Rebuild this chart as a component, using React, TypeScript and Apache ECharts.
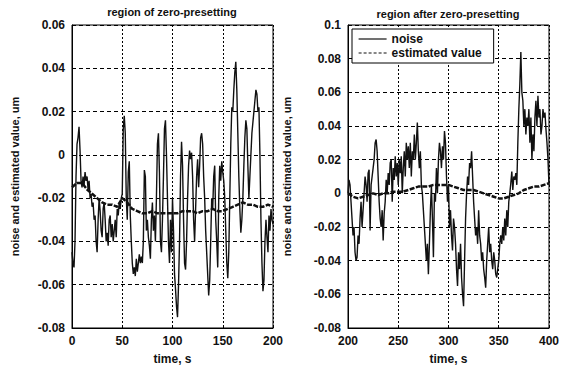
import React, { useEffect, useRef } from "react";
import * as echarts from "echarts";

// ---- data ----
const leftStart = 0;
const rightStart = 200;
const noiseStep = 1;
const estStep = 5;

const leftNoise = [
  -0.045, -0.050, -0.052, -0.040, -0.010, 0.005, 0.008, 0.013, 0.002, -0.012,
  -0.015, -0.010, -0.014, -0.008, -0.012, -0.010, -0.016, -0.012, -0.020, -0.018,
  -0.024, -0.022, -0.030, -0.028, -0.040, -0.045, -0.030, -0.020, -0.026, -0.035,
  -0.038, -0.025, -0.022, -0.030, -0.040, -0.036, -0.042, -0.030, -0.028, -0.038,
  -0.032, -0.040, -0.035, -0.030, -0.038, -0.025, -0.028, -0.022, -0.025, -0.020,
  -0.018, 0.012, 0.018, 0.010, -0.020, -0.030, -0.008, -0.003, -0.028, -0.040,
  -0.050, -0.055, -0.052, -0.056, -0.048, -0.054, -0.050, -0.046, -0.050, -0.047,
  -0.050, -0.040, -0.007, -0.010, -0.035, -0.030, -0.038, -0.042, -0.048, -0.030,
  -0.022, -0.035, -0.028, -0.040, -0.020, 0.005, 0.010, -0.008, -0.040, -0.045,
  -0.030, -0.010, 0.012, 0.016, 0.000, -0.020, -0.040, -0.050, -0.030, -0.045,
  -0.020, -0.035, -0.055, -0.062, -0.070, -0.075, -0.060, -0.040, -0.010, 0.006,
  -0.005, -0.030, -0.050, -0.053, -0.040, -0.020, -0.005, 0.002, -0.002, 0.001,
  -0.010, -0.030, -0.040, -0.025, -0.010, -0.002, -0.015, -0.005, 0.008, 0.010,
  0.005, -0.010, -0.020, -0.035, -0.045, -0.055, -0.065, -0.058, -0.040, -0.020,
  -0.025, -0.010, -0.005, -0.030, -0.040, -0.052, -0.020, -0.005, -0.012, -0.003,
  -0.008, -0.012, -0.020, -0.035, -0.050, -0.057, -0.045, -0.020, 0.005, 0.022,
  0.020, 0.030, 0.038, 0.043, 0.030, 0.010, -0.010, -0.025, -0.036, -0.030,
  -0.020, -0.005, 0.008, 0.016, 0.012, -0.005, -0.020, -0.010, 0.000, 0.010,
  0.015, 0.020, 0.025, 0.030, 0.028, 0.020, 0.022, 0.000, -0.030, -0.050,
  -0.063, -0.058, -0.040, -0.030, -0.038, -0.045, -0.028, -0.035, -0.025, -0.030, -0.032,
];

const leftEst = [
  -0.015, -0.013, -0.013, -0.016, -0.018, -0.020, -0.022, -0.023, -0.023, -0.024,
  -0.020, -0.022, -0.025, -0.026, -0.027, -0.027, -0.026, -0.027, -0.027, -0.027,
  -0.027, -0.027, -0.026, -0.026, -0.026, -0.027, -0.026, -0.026, -0.025, -0.026,
  -0.026, -0.025, -0.024, -0.023, -0.022, -0.023, -0.023, -0.024, -0.024, -0.023, -0.024,
];

const rightNoise = [
  0.000, 0.008, 0.005, -0.005, -0.015, -0.025, -0.020, -0.035, -0.040, -0.038,
  -0.025, -0.030, -0.015, -0.005, -0.020, -0.010, 0.000, 0.010, 0.005, -0.005,
  0.012, 0.014, -0.022, 0.005, 0.010, 0.015, 0.020, 0.030, 0.032, 0.025,
  0.010, -0.005, -0.015, -0.020, -0.010, -0.028, -0.012, -0.005, 0.008, 0.000,
  0.012, 0.005, 0.018, 0.020, -0.005, 0.015, 0.008, 0.022, 0.010, 0.018,
  0.005, 0.020, 0.012, 0.022, 0.000, 0.015, 0.025, 0.010, 0.030, 0.020,
  0.028, 0.015, 0.030, 0.010, 0.025, 0.020, 0.035, 0.020, 0.030, 0.042,
  0.025, 0.015, 0.025, 0.005, 0.000, -0.010, -0.020, -0.030, -0.040, -0.030,
  -0.048, -0.030, -0.010, 0.005, -0.015, -0.038, 0.000, -0.005, 0.015, 0.000,
  0.020, 0.030, 0.025, 0.015, 0.028, 0.020, 0.037, 0.030, 0.010, -0.005,
  0.005, -0.020, -0.010, -0.025, -0.034, -0.015, -0.020, -0.030, -0.045, -0.055,
  -0.035, -0.045, -0.030, -0.050, -0.060, -0.067, -0.040, -0.015, 0.000, 0.010,
  0.005, 0.018, 0.015, 0.025, 0.010, -0.005, -0.015, -0.025, -0.020, -0.030,
  -0.010, -0.025, -0.030, -0.040, -0.035, -0.045, -0.050, -0.056, -0.040, -0.030,
  -0.020, -0.035, -0.030, -0.040, -0.045, -0.035, -0.040, -0.048, -0.050, -0.045,
  -0.040, -0.030, -0.025, -0.030, -0.020, -0.028, -0.015, -0.025, -0.010, -0.020,
  -0.005, 0.000, 0.006, 0.013, 0.002, 0.010, 0.008, 0.012, 0.005, 0.030,
  0.050, 0.065, 0.084, 0.060, 0.055, 0.040, 0.050, 0.035, 0.045, 0.040,
  0.050, 0.030, 0.045, 0.020, 0.035, 0.025, 0.045, 0.055, 0.040, 0.058,
  0.045, 0.050, 0.035, 0.040, 0.050, 0.045, 0.048, 0.038, 0.030, 0.020, 0.005,
];

const rightEst = [
  0.000, -0.002, -0.003, -0.002, -0.001, 0.000, -0.001, 0.000, 0.000, 0.001,
  0.001, 0.001, 0.002, 0.003, 0.004, 0.004, 0.004, 0.005, 0.005, 0.005,
  0.005, 0.004, 0.003, 0.002, 0.002, 0.002, 0.001, 0.000, -0.001, -0.002,
  -0.003, -0.003, -0.002, -0.001, 0.000, 0.002, 0.003, 0.004, 0.004, 0.005, 0.006,
];

const titles = ["region of zero-presetting", "region after zero-presetting"];
const xName = "time, s";
const yName = "noise and estimated value, um";
const legendNames = ["noise", "estimated value"];

const FONT = "'Liberation Sans', Arial, Helvetica, sans-serif";

function pairs(start: number, step: number, vals: number[]) {
  return vals.map((v, i) => [start + i * step, v]);
}

export default function App() {
  const ref = useRef<HTMLDivElement>(null);
  useEffect(() => {
    if (!ref.current) return;
    const chart = echarts.init(ref.current, null, { renderer: "svg" });
    const grids = [
      { left: 72, top: 25, width: 201, height: 309 },
      { left: 348, top: 25, width: 201, height: 309 },
    ];
    const axisLabel = { color: "#111", fontSize: 12, fontWeight: "bold" as const, fontFamily: FONT };
    const mkX = (idx: number, min: number, max: number) => ({
      type: "value",
      gridIndex: idx,
      min,
      max,
      interval: 50,
      name: xName,
      nameLocation: "middle",
      nameGap: 25,
      nameTextStyle: { color: "#111", fontSize: 12, fontWeight: "bold", fontFamily: FONT },
      axisLine: { show: true, onZero: false, lineStyle: { color: "#000", width: 1 } },
      axisTick: { show: true, inside: true, length: 3, lineStyle: { color: "#000" } },
      axisLabel: { ...axisLabel, margin: 7 },
      splitLine: { show: true, lineStyle: { color: "#000", type: [2, 2], width: 1 } },
    });
    const mkY = (idx: number, min: number, max: number, gap: number) => ({
      type: "value",
      gridIndex: idx,
      min,
      max,
      interval: 0.02,
      name: yName,
      nameLocation: "middle",
      nameGap: gap,
      nameTextStyle: { color: "#111", fontSize: 11, fontWeight: "bold", fontFamily: FONT },
      axisLine: { show: true, onZero: false, lineStyle: { color: "#000", width: 1 } },
      axisTick: { show: true, inside: true, length: 3, lineStyle: { color: "#000" } },
      axisLabel: { ...axisLabel, margin: 7 },
      splitLine: { show: true, lineStyle: { color: "#000", type: [4, 3], width: 1 } },
    });
    const noiseStyle = { color: "#111", width: 1.4 };
    const estStyle = { color: "#111", width: 2.5, type: [5, 1.5] };
    chart.setOption({
      animation: false,
      backgroundColor: "#fff",
      grid: grids.map((g) => ({ ...g, show: true, borderColor: "#000", borderWidth: 1, backgroundColor: "transparent" })),
      xAxis: [mkX(0, 0, 200), mkX(1, 200, 400)],
      yAxis: [mkY(0, -0.08, 0.06, 52), mkY(1, -0.08, 0.1, 56)],
      legend: {
        data: [
          { name: legendNames[0], lineStyle: { width: 1.2, type: "solid" } },
          { name: legendNames[1], lineStyle: { width: 1.2, type: [3, 2] } },
        ],
        orient: "vertical",
        left: 352,
        top: 29,
        padding: [4, 12, 4, 6],
        itemGap: 2,
        itemWidth: 28,
        itemHeight: 12,
        borderColor: "#000",
        borderWidth: 1,
        backgroundColor: "#fff",
        itemStyle: { opacity: 0 },
        textStyle: { color: "#111", fontSize: 12, fontWeight: "bold", fontFamily: FONT },
      },
      graphic: [
        {
          type: "text",
          x: 172,
          y: 12,
          style: { text: titles[0], textAlign: "center", textVerticalAlign: "middle", fontSize: 11, fontWeight: "bold", fontFamily: FONT, fill: "#111" },
        },
        {
          type: "text",
          x: 448,
          y: 14,
          style: { text: titles[1], textAlign: "center", textVerticalAlign: "middle", fontSize: 11, fontWeight: "bold", fontFamily: FONT, fill: "#111" },
        },
      ],
      series: [
        {
          name: legendNames[0],
          type: "line",
          xAxisIndex: 0,
          yAxisIndex: 0,
          data: pairs(leftStart, noiseStep, leftNoise),
          showSymbol: false,
          symbol: "none",
          lineStyle: noiseStyle,
          itemStyle: { color: "#111" },
        },
        {
          name: legendNames[1],
          type: "line",
          xAxisIndex: 0,
          yAxisIndex: 0,
          data: pairs(leftStart, estStep, leftEst),
          showSymbol: false,
          symbol: "none",
          lineStyle: estStyle,
          itemStyle: { color: "#111" },
        },
        {
          name: legendNames[0],
          type: "line",
          xAxisIndex: 1,
          yAxisIndex: 1,
          data: pairs(rightStart, noiseStep, rightNoise),
          showSymbol: false,
          symbol: "none",
          lineStyle: noiseStyle,
          itemStyle: { color: "#111" },
        },
        {
          name: legendNames[1],
          type: "line",
          xAxisIndex: 1,
          yAxisIndex: 1,
          data: pairs(rightStart, estStep, rightEst),
          showSymbol: false,
          symbol: "none",
          lineStyle: estStyle,
          itemStyle: { color: "#111" },
        },
      ],
    });
    return () => chart.dispose();
  }, []);
  return <div ref={ref} style={{ position: "fixed", left: 0, top: 0, width: 562, height: 370, background: "#fff" }} />;
}
